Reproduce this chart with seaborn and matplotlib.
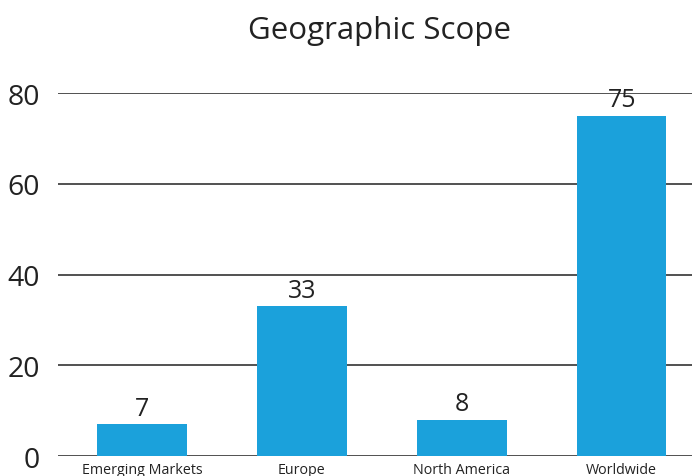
import matplotlib
matplotlib.use('Agg')
import matplotlib.pyplot as plt
import seaborn as sns
import pandas as pd

# chart data
regions = ['Emerging Markets', 'Europe', 'North America', 'Worldwide']
counts = [7, 33, 8, 75]
y_ticks = [0, 20, 40, 60, 80]

df = pd.DataFrame({'region': regions, 'count': counts})

sns.set_style('white')
plt.rcParams['font.family'] = ['Open Sans', 'DejaVu Sans']

fig = plt.figure(figsize=(6.92, 4.77), dpi=100)
ax = fig.add_axes([0.0838, 0.0419, 0.9162, 0.761])

sns.barplot(data=df, x='region', y='count', color='#1BA1DB', saturation=1,
            width=0.56, linewidth=0, edgecolor='none', ax=ax, zorder=3)

ax.set_ylim(0, 80)
ax.set_xlim(-0.525, 3.44)
ax.set_yticks(y_ticks)
ax.yaxis.grid(True, color='#222222', linewidth=1.1, zorder=0)
ax.set_axisbelow(True)
for s in ax.spines.values():
    s.set_visible(False)
ax.tick_params(axis='y', length=0, labelsize=20.5, pad=13, colors='#222222')
ax.tick_params(axis='x', length=0, labelsize=10.3, pad=4, colors='#222222')
ax.set_xlabel('')
ax.set_ylabel('')

for i, v in enumerate(counts):
    ax.text(i, v + 0.8, str(v), ha='center', va='bottom', fontsize=18, color='#222222')

fig.text(0.549, 0.935, 'Geographic Scope', ha='center', va='center', fontsize=22.5, color='#222222')

fig.savefig('out.png', dpi=100)
